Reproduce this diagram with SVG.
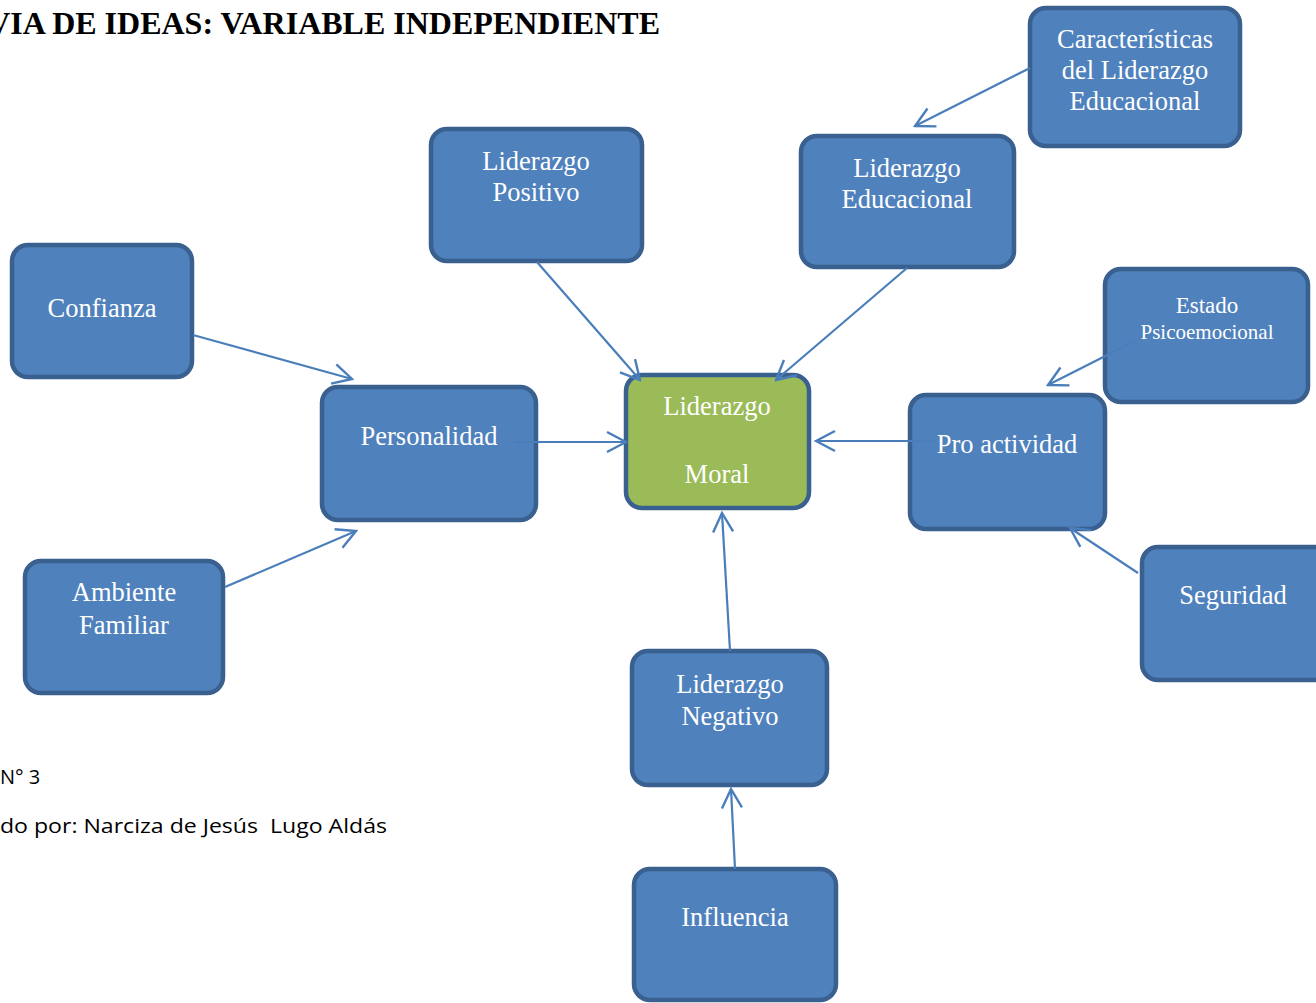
<svg xmlns="http://www.w3.org/2000/svg" width="1316" height="1003" viewBox="0 0 1316 1003">
<style>
.box{fill:#4F81BD;stroke:#3A6090;stroke-width:4.5}
.green{fill:#9BBB59;stroke:#3A6090;stroke-width:4.5}
.t{font-family:"Liberation Serif","Times New Roman",serif;font-size:26.5px;fill:#ffffff;text-anchor:middle}
.c{stroke:#4A7EBB;stroke-width:2.2;fill:none;marker-end:url(#arr)}
.note{font-family:"Open Sans","Liberation Sans",sans-serif;font-size:20px;fill:#000000}
</style>
<defs>
<marker id="arr" markerUnits="userSpaceOnUse" viewBox="-22 -13 24 26" refX="0" refY="0" markerWidth="24" markerHeight="26" orient="auto">
<path d="M-19,-10 L0,0 L-19,10" fill="none" stroke="#4A7EBB" stroke-width="2.4"/>
</marker>
</defs>
<rect width="1316" height="1003" fill="#ffffff"/>
<text x="660" y="34" font-family="Liberation Serif,'Times New Roman',serif" font-size="32" font-weight="bold" text-anchor="end" fill="#000000">VIA DE IDEAS: VARIABLE INDEPENDIENTE</text>
<text class="note" x="0" y="784">N° 3</text>
<text class="note" x="0" y="833" textLength="387" lengthAdjust="spacingAndGlyphs" xml:space="preserve">do por: Narciza de Jesús  Lugo Aldás</text>

<g id="caracteristicas">
<rect class="box" x="1030" y="8" width="210" height="138" rx="16"/>
<text class="t" x="1135" y="48">Características</text>
<text class="t" x="1135" y="79">del Liderazgo</text>
<text class="t" x="1135" y="110">Educacional</text>
</g>
<g id="positivo">
<rect class="box" x="431" y="129" width="211" height="132" rx="16"/>
<text class="t" x="536" y="170">Liderazgo</text>
<text class="t" x="536" y="201">Positivo</text>
</g>
<g id="educacional">
<rect class="box" x="801" y="136" width="213" height="131" rx="16"/>
<text class="t" x="907" y="177">Liderazgo</text>
<text class="t" x="907" y="208">Educacional</text>
</g>
<g id="confianza">
<rect class="box" x="12" y="245" width="180" height="132" rx="16"/>
<text class="t" x="102" y="317">Confianza</text>
</g>
<g id="estado">
<rect class="box" x="1105" y="269" width="203" height="133" rx="16"/>
<text class="t" x="1207" y="313" style="font-size:23px">Estado</text>
<text class="t" x="1207" y="339" style="font-size:21px">Psicoemocional</text>
</g>
<g id="personalidad">
<rect class="box" x="322" y="387" width="214" height="133" rx="16"/>
<text class="t" x="429" y="445">Personalidad</text>
</g>
<g id="moral">
<rect class="green" x="626" y="375" width="183" height="133" rx="16"/>
<text class="t" x="717" y="415">Liderazgo</text>
<text class="t" x="717" y="483">Moral</text>
</g>
<g id="proactividad">
<rect class="box" x="910" y="395" width="195" height="134" rx="16"/>
<text class="t" x="1007" y="453">Pro actividad</text>
</g>
<g id="seguridad">
<rect class="box" x="1142" y="547" width="190" height="133" rx="16"/>
<text class="t" x="1233" y="604">Seguridad</text>
</g>
<g id="ambiente">
<rect class="box" x="25" y="561" width="198" height="132" rx="16"/>
<text class="t" x="124" y="601">Ambiente</text>
<text class="t" x="124" y="634">Familiar</text>
</g>
<g id="negativo">
<rect class="box" x="632" y="651" width="195" height="134" rx="16"/>
<text class="t" x="730" y="693">Liderazgo</text>
<text class="t" x="730" y="725">Negativo</text>
</g>
<g id="influencia">
<rect class="box" x="634" y="869" width="202" height="131" rx="16"/>
<text class="t" x="735" y="926">Influencia</text>
</g>

<g id="connectors">
<line class="c" x1="1030" y1="68" x2="915" y2="126"/>
<line class="c" x1="537" y1="262" x2="640" y2="380"/>
<line class="c" x1="907" y1="268" x2="776" y2="380"/>
<line class="c" x1="193" y1="335" x2="352" y2="379"/>
<line class="c" x1="515" y1="442" x2="626" y2="442"/>
<line class="c" x1="225" y1="587" x2="356" y2="531"/>
<line class="c" x1="1133" y1="342" x2="1048" y2="385"/>
<line class="c" x1="935" y1="441" x2="816" y2="441"/>
<line class="c" x1="1138" y1="573" x2="1070" y2="528"/>
<line class="c" x1="730" y1="651" x2="722" y2="513"/>
<line class="c" x1="735" y1="869" x2="731" y2="789"/>
</g>
</svg>
